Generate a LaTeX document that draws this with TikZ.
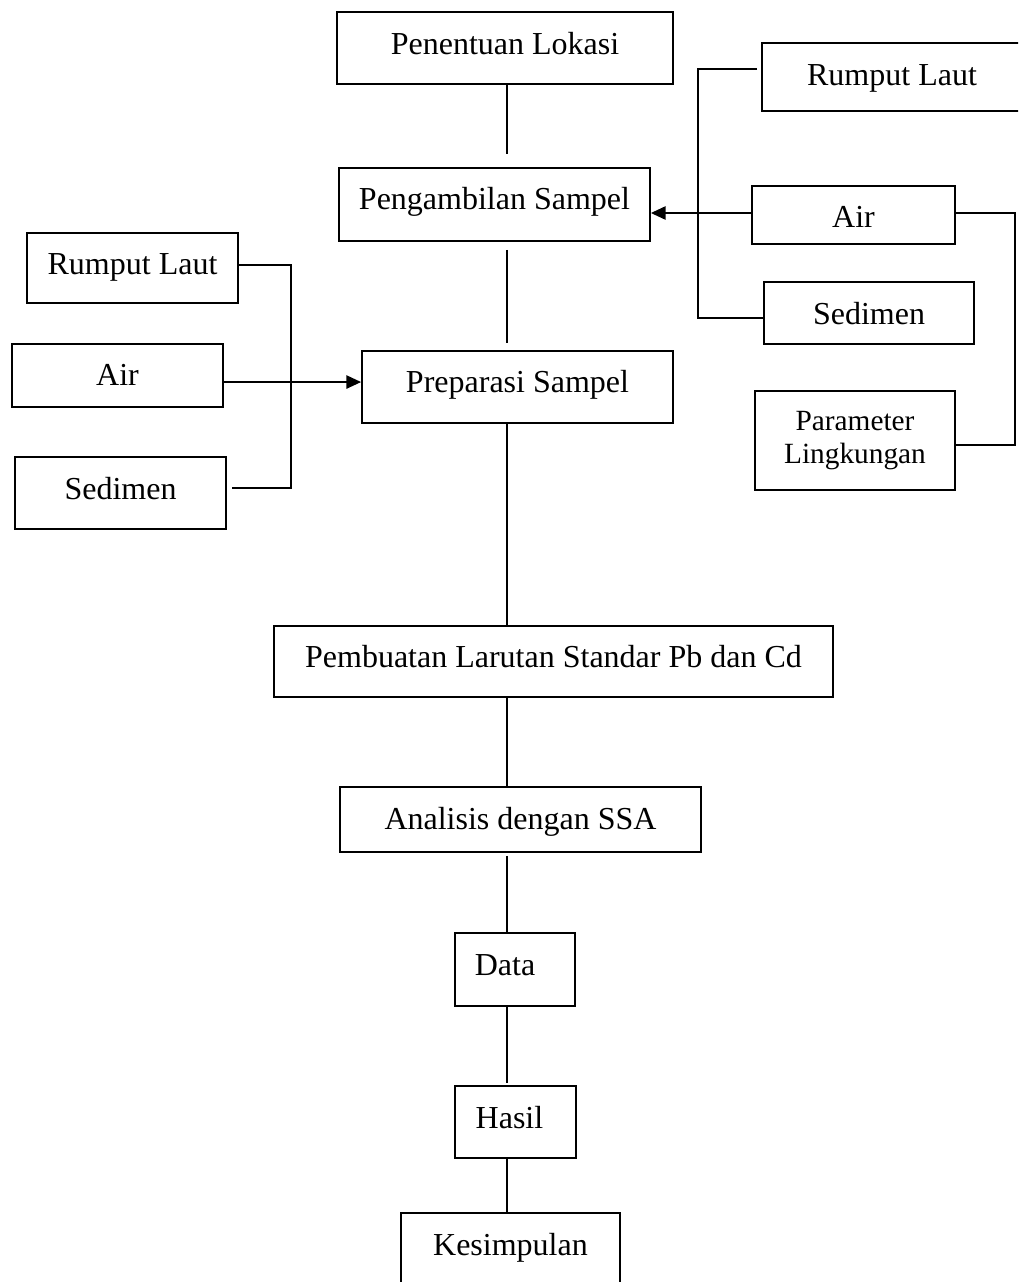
\documentclass[tikz,border=0pt]{standalone}
\usepackage{fontspec}
\setmainfont{Liberation Serif}
\usetikzlibrary{arrows.meta}
\begin{document}
\begin{tikzpicture}[x=0.75pt,y=-0.75pt,
  bx/.style 2 args={draw, line width=1.4pt, inner sep=0pt, minimum width=#1, minimum height=#2, font=\fontsize{24}{28}\selectfont},
  ln/.style={line width=1.1pt},
  thinln/.style={line width=0.8pt},
  arr/.style={line width=1.1pt, -{Triangle[length=11pt,width=10pt]}}]
\useasboundingbox (0,0) rectangle (1018,1282);
\clip (0,0) rectangle (1018,1282);

% main column
\node[bx={252pt}{54pt}, text height=16pt, text depth=6pt] (pen) at (505,48) {Penentuan Lokasi};
\node[bx={233.25pt}{54.75pt}, text height=14.875pt, text depth=7.125pt] (peng) at (494.5,204.5) {Pengambilan Sampel};
\node[bx={233.25pt}{54pt}, text height=15.25pt, text depth=6.75pt] (prep) at (517.5,387) {Preparasi Sampel};
\node[bx={419.25pt}{53.25pt}, text height=15.375pt, text depth=7.125pt] (pemb) at (553.5,661.5) {Pembuatan Larutan Standar Pb dan Cd};
\node[bx={270.75pt}{48.75pt}, text height=17.625pt, text depth=3.375pt] (anal) at (520.5,819.5) {Analisis dengan SSA};
\node[bx={90pt}{54.75pt}, text height=15.625pt, text depth=6.375pt] (data) at (515,969.5) {Data\hspace*{15pt}};
\node[bx={90.75pt}{54pt}, text height=16pt, text depth=6pt] (hasil) at (515.5,1122) {Hasil\hspace*{9pt}};
\node[bx={164.25pt}{57.75pt}, text height=13.125pt, text depth=7.875pt] (kes) at (510.5,1251.5) {Kesimpulan};

% right group
\node[bx={195pt}{51pt}, text height=17.5pt, text depth=4.5pt] (rlr) at (892,77) {Rumput Laut};
\node[bx={152.25pt}{43.5pt}, text height=19.75pt, text depth=0.75pt] (airr) at (853.5,215) {Air};
\node[bx={157.5pt}{46.5pt}, text height=18.75pt, text depth=2.25pt] (sedr) at (869,313) {Sedimen};
\node[bx={150pt}{74.25pt}, align=center, font=\fontsize{22}{25}\selectfont] (par) at (855,440.5) {Parameter\\Lingkungan};

% left group
\node[bx={158.25pt}{52.5pt}, text height=15pt, text depth=6pt] (rll) at (132.5,268) {Rumput Laut};
\node[bx={158.25pt}{47.25pt}, text height=17.625pt, text depth=3.375pt] (airl) at (117.5,375.5) {Air};
\node[bx={158.25pt}{54pt}, text height=16pt, text depth=6pt] (sedl) at (120.5,493) {Sedimen};

% column connectors
\coordinate (col) at (507,0);
\draw[ln, shorten >=9.75pt] (col |- pen.south) -- (col |- peng.north);
\draw[ln, shorten <=6pt, shorten >=5.25pt] (col |- peng.south) -- (col |- prep.north);
\draw[ln] (col |- prep.south) -- (col |- pemb.north);
\draw[ln] (col |- pemb.south) -- (col |- anal.north);
\draw[ln, shorten <=2.25pt] (col |- anal.south) -- (col |- data.north);
\draw[thinln, shorten >=1.5pt] (col |- data.south) -- (col |- hasil.north);
\draw[thinln] (col |- hasil.south) -- (col |- kes.north);

% right brackets
\draw[ln, shorten <=3pt] ([yshift=6pt]rlr.west) -- ++(-63,0) |- ([yshift=-3.75pt]sedr.west);
\coordinate (a1) at ([yshift=1.5pt]airr.west);
\draw[arr] (a1) -- (a1 -| peng.east);
\coordinate (rb) at (1015,0);
\coordinate (pe) at ([yshift=-3.4pt]par.east);
\draw[ln] ([yshift=1.5pt]airr.east) -| (pe -| rb) -- (pe);

% left bracket
\coordinate (lb) at (291,0);
\coordinate (se) at ([yshift=3.75pt]sedl.east);
\draw[ln, shorten >=3.75pt] ([yshift=2.25pt]rll.east) -| (lb |- se) -- (se);
\coordinate (a2) at ([yshift=-4.9pt]airl.east);
\draw[arr] (a2) -- (a2 -| prep.west);
\end{tikzpicture}
\end{document}
